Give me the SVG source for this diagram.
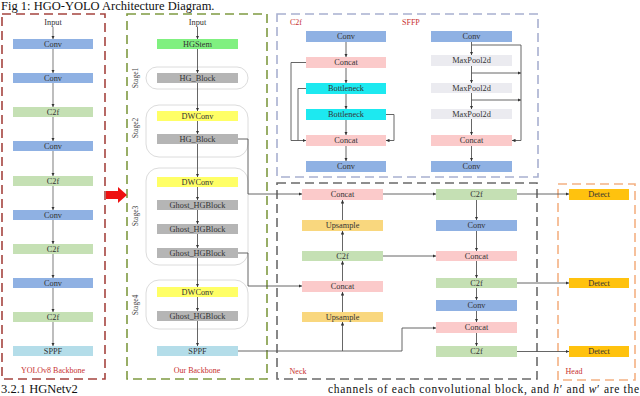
<svg xmlns="http://www.w3.org/2000/svg" width="640" height="396" viewBox="0 0 640 396">
<defs>
<marker id="ah" viewBox="0 0 6 6" refX="6" refY="3" markerWidth="3.5" markerHeight="3.5" markerUnits="userSpaceOnUse" orient="auto"><path d="M0,0 L6,3 L0,6 z" fill="#333"/></marker>
<style>
text{font-family:"Liberation Serif","Times New Roman",serif;}
.t{font-size:8.3px;fill:#333;text-anchor:middle;dominant-baseline:central;}
.lbl{font-size:8px;fill:#c8312f;}
.stg{font-size:7.5px;fill:#444;text-anchor:middle;dominant-baseline:central;}
.ln{fill:none;stroke:#555;stroke-width:0.9;}
.lg{fill:none;stroke:#888;stroke-width:1.1;}
.a{marker-end:url(#ah);}
.conv{fill:#8fb1e3;}
.c2f{fill:#c5e0b4;}
.sppf{fill:#b4dde9;}
.stem{fill:#80f080;}
.hg{fill:#b5b5b5;}
.dw{fill:#ffff66;}
.cat{fill:#fbcaca;}
.bn{fill:#1de9f0;}
.mp{fill:#ebebf0;}
.up{fill:#f9d77e;}
.det{fill:#ffc20e;}
.stage{fill:none;stroke:#dcdcdc;stroke-width:1;}
.frame{fill:none;stroke-width:1.6;stroke-dasharray:9 5;}
</style>
</defs>
<rect width="640" height="396" fill="#fff"/>

<text x="1" y="10" font-size="12.5" fill="#111">Fig 1: HGO-YOLO Architecture Diagram.</text>
<text x="1" y="393" font-size="12.5" fill="#111">3.2.1 HGNetv2</text>
<text x="328" y="393" font-size="11.5" fill="#111" textLength="311" lengthAdjust="spacing">channels of each convolutional block, and <tspan font-style="italic">h</tspan>′ and <tspan font-style="italic">w</tspan>′ are the</text>

<!-- frames -->
<g id="frame-yolov8">
<rect class="frame" x="2" y="14" width="103" height="365" stroke="#a5443f"/>
<text class="lbl" x="53" y="373" text-anchor="middle">YOLOv8 Backbone</text>
</g>
<g id="frame-ours">
<rect class="frame" x="127" y="14" width="140" height="365" stroke="#7f9a41"/>
<text class="lbl" x="197" y="373" text-anchor="middle">Our Backbone</text>
</g>
<g id="frame-modules">
<rect class="frame" x="277" y="14" width="261" height="163" stroke="#a8b0d0"/>
<text class="lbl" x="290" y="25">C2f</text>
<text class="lbl" x="402" y="25">SFFP</text>
</g>
<g id="frame-neck">
<rect class="frame" x="277" y="183" width="260" height="196" stroke="#6a6a6a"/>
<text class="lbl" x="298" y="374" text-anchor="middle">Neck</text>
</g>
<g id="frame-head">
<rect class="frame" x="558" y="184" width="77" height="196" stroke="#f4b183"/>
<text class="lbl" x="574" y="374" text-anchor="middle">Head</text>
</g>

<!-- red arrow -->
<polygon id="transition-arrow" points="106,191 118,191 118,187 127,195 118,203 118,199 106,199" fill="#ee1111"/>

<!-- stage outlines -->
<g id="stages">
<rect class="stage" x="146" y="67" width="102" height="22" rx="11"/>
<rect class="stage" x="146" y="105" width="102" height="52" rx="13"/>
<rect class="stage" x="146" y="168" width="102" height="97" rx="13"/>
<rect class="stage" x="146" y="280" width="102" height="49" rx="13"/>
<text class="stg" transform="translate(135,78) rotate(-90)">Stage1</text>
<text class="stg" transform="translate(135,128) rotate(-90)">Stage2</text>
<text class="stg" transform="translate(135,216) rotate(-90)">Stage3</text>
<text class="stg" transform="translate(135,305) rotate(-90)">Stage4</text>
</g>

<!-- connectors -->
<g id="connectors">
<path class="lg a" d="M53,27 V39"/>
<path class="lg a" d="M53,49 V73"/>
<path class="lg a" d="M53,83 V107"/>
<path class="lg a" d="M53,117 V141"/>
<path class="lg a" d="M53,151 V176"/>
<path class="lg a" d="M53,186 V210"/>
<path class="lg a" d="M53,220 V244"/>
<path class="lg a" d="M53,254 V278"/>
<path class="lg a" d="M53,288 V312"/>
<path class="lg a" d="M53,322 V346"/>
<path class="ln a" d="M197.5,27 V39"/>
<path class="ln a" d="M197.5,49 V73"/>
<path class="ln a" d="M197.5,83 V111"/>
<path class="ln a" d="M197.5,121 V134"/>
<path class="ln a" d="M197.5,144 V177"/>
<path class="ln a" d="M197.5,187 V200"/>
<path class="ln a" d="M197.5,210 V224"/>
<path class="ln a" d="M197.5,234 V248"/>
<path class="ln a" d="M197.5,258 V287"/>
<path class="ln a" d="M197.5,297 V311"/>
<path class="ln a" d="M197.5,321 V346"/>
<path class="ln a" d="M238,139 H248 V194 H302"/>
<path class="ln a" d="M238,253 H248 V286 H302"/>
<path class="ln a" d="M238,351 H402 V328 H436"/>
<path class="ln a" d="M342.5,351 V322"/>
<path class="ln a" d="M342.5,312 V292"/>
<path class="ln a" d="M342.5,281 V261"/>
<path class="ln a" d="M342.5,251 V231"/>
<path class="ln a" d="M342.5,220 V200"/>
<path class="ln a" d="M383,194 H436"/>
<path class="ln a" d="M383,256 H436"/>
<path class="ln a" d="M476.5,200 V220"/>
<path class="ln a" d="M476.5,231 V251"/>
<path class="ln a" d="M476.5,261 V278"/>
<path class="ln a" d="M476.5,288 V300"/>
<path class="ln a" d="M476.5,311 V322"/>
<path class="ln a" d="M476.5,333 V346"/>
<path class="ln a" d="M517,194 H569"/>
<path class="ln a" d="M517,283 H569"/>
<path class="ln a" d="M517,351.5 H569"/>
<path class="ln a" d="M346,42 V57"/>
<path class="ln a" d="M346,68 V83"/>
<path class="ln a" d="M346,94 V109"/>
<path class="ln a" d="M346,120 V135"/>
<path class="ln a" d="M346,146 V161"/>
<path class="ln a" d="M306,62.5 H291 V140.5 H306"/>
<path class="ln" d="M306,88.5 H298 V140.5"/>
<path class="ln a" d="M386,114.5 H394 V140.5 H386"/>
<path class="ln a" d="M471.5,42 V55"/>
<path class="ln a" d="M471.5,66 V83"/>
<path class="ln a" d="M471.5,93 V109"/>
<path class="ln a" d="M471.5,119 V135"/>
<path class="ln a" d="M471.5,146 V161"/>
<path class="ln a" d="M471.5,45 H521 V140.5 H512"/>
<path class="ln a" d="M471.5,73 H521"/>
<path class="ln a" d="M471.5,100 H521"/>
</g>

<!-- YOLOv8 backbone nodes -->
<g id="y-input"><text class="t" x="53" y="22">Input</text></g>
<g id="y-conv1"><rect class="conv" x="13" y="39" width="80" height="10"/><text class="t" x="53" y="44">Conv</text></g>
<g id="y-conv2"><rect class="conv" x="13" y="73" width="80" height="10"/><text class="t" x="53" y="78">Conv</text></g>
<g id="y-c2f1"><rect class="c2f" x="13" y="107" width="80" height="10"/><text class="t" x="53" y="112">C2f</text></g>
<g id="y-conv3"><rect class="conv" x="13" y="141" width="80" height="10"/><text class="t" x="53" y="146">Conv</text></g>
<g id="y-c2f2"><rect class="c2f" x="13" y="176" width="80" height="10"/><text class="t" x="53" y="181">C2f</text></g>
<g id="y-conv4"><rect class="conv" x="13" y="210" width="80" height="10"/><text class="t" x="53" y="215">Conv</text></g>
<g id="y-c2f3"><rect class="c2f" x="13" y="244" width="80" height="10"/><text class="t" x="53" y="249">C2f</text></g>
<g id="y-conv5"><rect class="conv" x="13" y="278" width="80" height="10"/><text class="t" x="53" y="283">Conv</text></g>
<g id="y-c2f4"><rect class="c2f" x="13" y="312" width="80" height="10"/><text class="t" x="53" y="317">C2f</text></g>
<g id="y-sppf"><rect class="sppf" x="13" y="346" width="80" height="10"/><text class="t" x="53" y="351">SPPF</text></g>

<!-- Our backbone nodes -->
<g id="o-input"><text class="t" x="197.5" y="22">Input</text></g>
<g id="o-hgstem"><rect class="stem" x="157" y="39" width="81" height="10"/><text class="t" x="197.5" y="44">HGStem</text></g>
<g id="o-hgblock1"><rect class="hg" x="157" y="73" width="81" height="10"/><text class="t" x="197.5" y="78">HG_Block</text></g>
<g id="o-dwconv1"><rect class="dw" x="157" y="111" width="81" height="10"/><text class="t" x="197.5" y="116">DWConv</text></g>
<g id="o-hgblock2"><rect class="hg" x="157" y="134" width="81" height="10"/><text class="t" x="197.5" y="139">HG_Block</text></g>
<g id="o-dwconv2"><rect class="dw" x="157" y="177" width="81" height="10"/><text class="t" x="197.5" y="182">DWConv</text></g>
<g id="o-ghost1"><rect class="hg" x="157" y="200" width="81" height="10"/><text class="t" x="197.5" y="205">Ghost_HGBlock</text></g>
<g id="o-ghost2"><rect class="hg" x="157" y="224" width="81" height="10"/><text class="t" x="197.5" y="229">Ghost_HGBlock</text></g>
<g id="o-ghost3"><rect class="hg" x="157" y="248" width="81" height="10"/><text class="t" x="197.5" y="253">Ghost_HGBlock</text></g>
<g id="o-dwconv3"><rect class="dw" x="157" y="287" width="81" height="10"/><text class="t" x="197.5" y="292">DWConv</text></g>
<g id="o-ghost4"><rect class="hg" x="157" y="311" width="81" height="10"/><text class="t" x="197.5" y="316">Ghost_HGBlock</text></g>
<g id="o-sppf"><rect class="sppf" x="157" y="346" width="81" height="10"/><text class="t" x="197.5" y="351">SPPF</text></g>

<!-- C2f module nodes -->
<g id="m-c2f-conv1"><rect class="conv" x="306" y="31" width="80" height="11"/><text class="t" x="346" y="36.5">Conv</text></g>
<g id="m-c2f-concat1"><rect class="cat" x="306" y="57" width="80" height="11"/><text class="t" x="346" y="62.5">Concat</text></g>
<g id="m-c2f-bn1"><rect class="bn" x="306" y="83" width="80" height="11"/><text class="t" x="346" y="88.5">Bottleneck</text></g>
<g id="m-c2f-bn2"><rect class="bn" x="306" y="109" width="80" height="11"/><text class="t" x="346" y="114.5">Bottleneck</text></g>
<g id="m-c2f-concat2"><rect class="cat" x="306" y="135" width="80" height="11"/><text class="t" x="346" y="140.5">Concat</text></g>
<g id="m-c2f-conv2"><rect class="conv" x="306" y="161" width="80" height="11"/><text class="t" x="346" y="166.5">Conv</text></g>

<!-- SFFP module nodes -->
<g id="m-sffp-conv1"><rect class="conv" x="431" y="31" width="81" height="11"/><text class="t" x="471.5" y="36.5">Conv</text></g>
<g id="m-sffp-mp1"><rect class="mp" x="431" y="55" width="81" height="11"/><text class="t" x="471.5" y="60.5">MaxPool2d</text></g>
<g id="m-sffp-mp2"><rect class="mp" x="431" y="83" width="81" height="10"/><text class="t" x="471.5" y="88">MaxPool2d</text></g>
<g id="m-sffp-mp3"><rect class="mp" x="431" y="109" width="81" height="10"/><text class="t" x="471.5" y="114">MaxPool2d</text></g>
<g id="m-sffp-concat"><rect class="cat" x="431" y="135" width="81" height="11"/><text class="t" x="471.5" y="140.5">Concat</text></g>
<g id="m-sffp-conv2"><rect class="conv" x="431" y="161" width="81" height="11"/><text class="t" x="471.5" y="166.5">Conv</text></g>

<!-- Neck col1 -->
<g id="n-concat1"><rect class="cat" x="302" y="189" width="81" height="11"/><text class="t" x="342.5" y="194.5">Concat</text></g>
<g id="n-upsample1"><rect class="up" x="302" y="220" width="81" height="11"/><text class="t" x="342.5" y="225.5">Upsample</text></g>
<g id="n-c2f1"><rect class="c2f" x="302" y="251" width="81" height="10"/><text class="t" x="342.5" y="256">C2f</text></g>
<g id="n-concat2"><rect class="cat" x="302" y="281" width="81" height="11"/><text class="t" x="342.5" y="286.5">Concat</text></g>
<g id="n-upsample2"><rect class="up" x="302" y="312" width="81" height="10"/><text class="t" x="342.5" y="317">Upsample</text></g>

<!-- Neck col2 -->
<g id="n-c2f2"><rect class="c2f" x="436" y="189" width="81" height="11"/><text class="t" x="476.5" y="194.5">C2f</text></g>
<g id="n-conv1"><rect class="conv" x="436" y="220" width="81" height="11"/><text class="t" x="476.5" y="225.5">Conv</text></g>
<g id="n-concat3"><rect class="cat" x="436" y="251" width="81" height="10"/><text class="t" x="476.5" y="256">Concat</text></g>
<g id="n-c2f3"><rect class="c2f" x="436" y="278" width="81" height="10"/><text class="t" x="476.5" y="283">C2f</text></g>
<g id="n-conv2"><rect class="conv" x="436" y="300" width="81" height="11"/><text class="t" x="476.5" y="305.5">Conv</text></g>
<g id="n-concat4"><rect class="cat" x="436" y="322" width="81" height="11"/><text class="t" x="476.5" y="327.5">Concat</text></g>
<g id="n-c2f4"><rect class="c2f" x="436" y="346" width="81" height="11"/><text class="t" x="476.5" y="351.5">C2f</text></g>

<!-- Head -->
<g id="h-detect1"><rect class="det" x="569" y="189" width="60" height="11"/><text class="t" x="599" y="194.5">Detect</text></g>
<g id="h-detect2"><rect class="det" x="569" y="278" width="60" height="10"/><text class="t" x="599" y="283">Detect</text></g>
<g id="h-detect3"><rect class="det" x="569" y="346" width="60" height="11"/><text class="t" x="599" y="351.5">Detect</text></g>
</svg>
